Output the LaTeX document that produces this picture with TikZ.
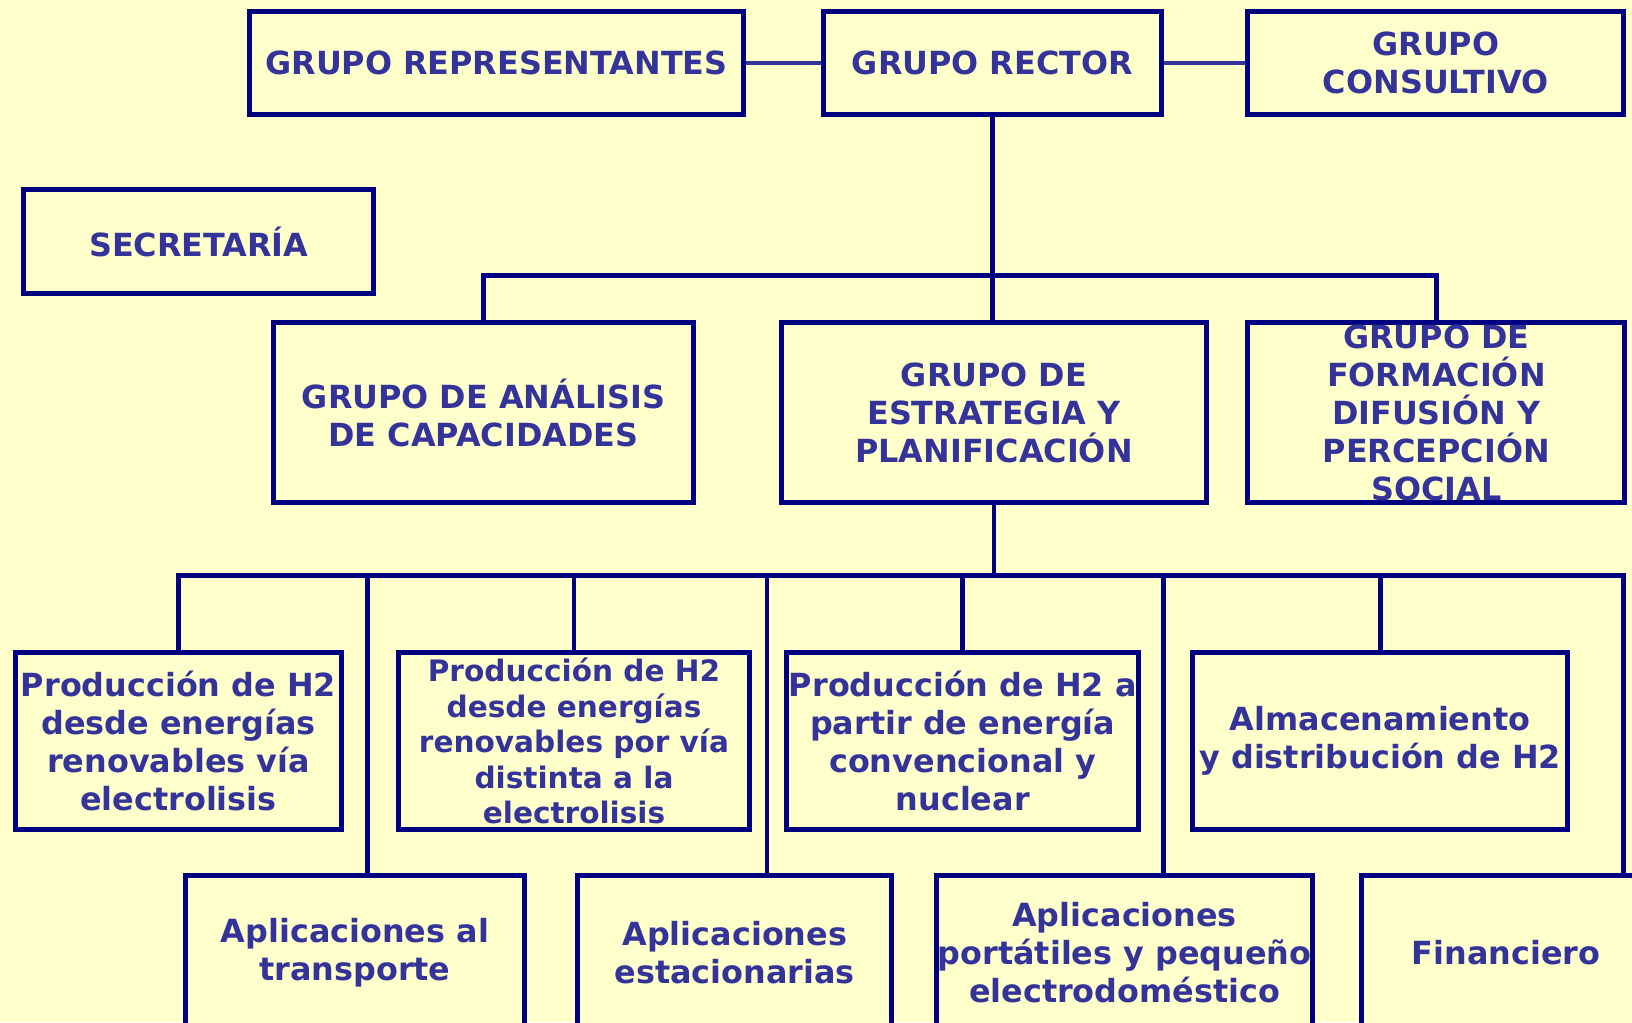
\documentclass[tikz,border=0pt]{standalone}
\usepackage{fontspec}
\setmainfont{DejaVu Sans}
\usepackage{tikz}
\usepackage{xcolor}
\definecolor{orgbg}{RGB}{255,255,204}
\definecolor{orgline}{RGB}{0,0,128}
\definecolor{orgtext}{RGB}{51,51,153}

\begin{document}
\begin{tikzpicture}[x=0.5pt, y=-0.5pt,
    orgbox/.style={draw=orgline, fill=orgbg, line width=2.4pt, inner sep=0pt,
        align=center, text=orgtext, font=\fontsize{15.3}{18.3}\selectfont\bfseries},
    smallbox/.style={orgbox, font=\fontsize{14.2}{17}\selectfont\bfseries},
    link/.style={draw=orgline, line width=2.3pt},
    softlink/.style={draw=orgtext, line width=2.3pt}]
    % Canvas
    \fill[orgbg] (0,0) rectangle (1568,982);
    \useasboundingbox (0,0) rectangle (1568,982);
    \clip (0,0) rectangle (1568,982);

    % Top row
    \node[orgbox, minimum width=237pt, minimum height=49.5pt] (representantes) at (477,60.5) {GRUPO REPRESENTANTES};
    \node[orgbox, minimum width=162.5pt, minimum height=49.5pt] (rector) at (953.5,60.5) {GRUPO RECTOR};
    \node[orgbox, minimum width=180.5pt, minimum height=49.5pt] (consultivo) at (1379.5,60.5) {GRUPO\\CONSULTIVO};
    \node[orgbox, minimum width=168pt, minimum height=50pt] (secretaria) at (191,232) {SECRETARÍA};

    % Second row
    \node[orgbox, minimum width=201.5pt, minimum height=86.5pt] (analisis) at (464.5,396.5) {GRUPO DE ANÁLISIS\\DE CAPACIDADES};
    \node[orgbox, minimum width=204pt, minimum height=86.5pt] (estrategia) at (955,396.5) {GRUPO DE\\ESTRATEGIA Y\\PLANIFICACIÓN};
    \node[orgbox, minimum width=181pt, minimum height=86.5pt] (formacion) at (1380,396.5) {GRUPO DE\\FORMACIÓN\\DIFUSIÓN Y\\PERCEPCIÓN\\SOCIAL};

    % Working groups
    \node[orgbox, minimum width=156.5pt, minimum height=85pt] (prodelec) at (171.5,712) {Producción de H2\\desde energías\\renovables vía\\electrolisis};
    \node[smallbox, minimum width=168.5pt, minimum height=85pt] (prodotra) at (551.5,712) {Producción de H2\\desde energías\\renovables por vía\\distinta a la\\electrolisis};
    \node[orgbox, minimum width=169pt, minimum height=85pt] (prodconv) at (925,712) {Producción de H2 a\\partir de energía\\convencional y\\nuclear};
    \node[orgbox, minimum width=180pt, minimum height=85pt] (almacen) at (1326,712) {Almacenamiento\\y distribución de H2};

    \node[orgbox, minimum width=163pt, minimum height=74.5pt] (transporte) at (341,915.5) {Aplicaciones al\\transporte};
    \node[orgbox, minimum width=151pt, minimum height=74.5pt] (estacionarias) at (706,915.5) {Aplicaciones\\estacionarias};
    \node[orgbox, minimum width=180.5pt, minimum height=74.5pt] (portatiles) at (1080.5,915.5) {Aplicaciones\\portátiles y pequeño\\electrodoméstico};
    \node[orgbox, minimum width=139pt, minimum height=74.5pt] (financiero) at (1447,915.5) {Financiero};

    % Links between top groups
    \draw[softlink] (representantes.east) -- (rector.west);
    \draw[softlink] (rector.east) -- (consultivo.west);

    % Rector to second row
    \coordinate (upperbus) at (955,265);
    \draw[link] (rector.south) -- (rector.south |- estrategia.north);
    \draw[link] (analisis.north) |- (upperbus) -| (formacion.north);

    % Estrategia to working groups
    \coordinate (lowerbus) at (955,553);
    \coordinate (busend) at (1560,553);
    \coordinate (droptrans) at (353,553);
    \coordinate (dropestac) at (737,553);
    \coordinate (dropport) at (1118,553);
    \draw[link] (estrategia.south) -- (lowerbus);
    \draw[link] (prodelec.north) |- (busend) -- (busend |- financiero.north);
    \draw[link] (prodotra.north) -- (prodotra.north |- lowerbus);
    \draw[link] (prodconv.north) -- (prodconv.north |- lowerbus);
    \draw[link] (almacen.north) -- (almacen.north |- lowerbus);
    \draw[link] (droptrans) -- (droptrans |- transporte.north);
    \draw[link] (dropestac) -- (dropestac |- estacionarias.north);
    \draw[link] (dropport) -- (dropport |- portatiles.north);
\end{tikzpicture}
\end{document}
